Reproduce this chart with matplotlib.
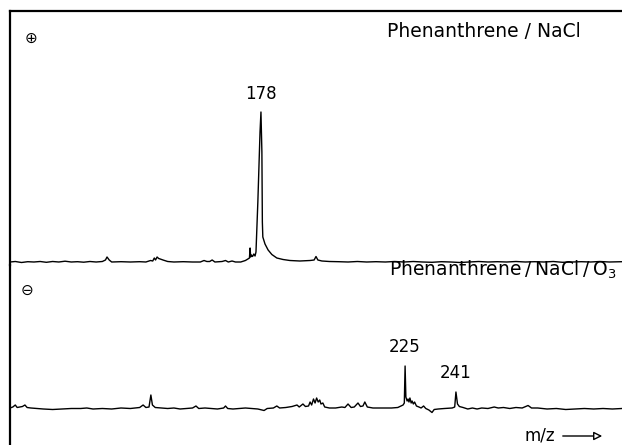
import matplotlib
matplotlib.use("Agg")
import matplotlib.pyplot as plt

# positive-ion spectrum: Phenanthrene / NaCl  (m/z, relative intensity)
top_mz = [97.3, 99, 101, 103, 105, 107, 109, 111, 113, 115, 117, 119, 121, 123, 125, 127,
          128.0, 128.5, 129.2, 130, 133, 136, 139, 141, 142.5, 143.2, 143.7, 144.1, 144.6,
          145.1, 145.6, 146.5, 148, 150, 153, 156, 158.5, 159.7, 160.6, 161.5, 162.3, 163.2,
          165.5, 166.6, 167.5, 168.7, 169.8, 171.5, 173, 173.8, 174.3, 174.5, 174.7, 174.9,
          175.3, 175.7, 176.1, 176.4, 177.0, 177.7, 178.0, 178.3, 178.45, 178.6, 179.3, 180.3,
          181.5, 183.1, 185.1, 187.3, 190.5, 193.8, 195.1, 195.7, 196.3, 197.6, 200, 203, 206,
          209, 212, 215, 218, 221, 224, 227, 230, 233, 236, 239, 242, 245, 248, 251, 254, 257,
          260, 263, 266, 269, 272, 275, 278, 281, 284, 287, 290, 294.1]
top_int = [0, 0.5, -0.5, 0.3, 0, 0.5, -0.3, 0.5, 0, 0.8, 0, 0.3, -0.2, 0.5, 0, 0.5,
           2, 5, 2, 0, 0.3, 0, 0.3, 0, 1.5, 1, 4, 2, 5,
           3.5, 3, 2, 0.5, 0, 0.3, 0, 0, 1.5, 0.5, 0.5, 2, 0,
           0.5, 1.5, 0, 1, 0, 0, 1.5, 3, 4, 14, 5, 7,
           5.5, 8, 6, 10, 60, 130, 150, 110, 40, 25, 18, 12,
           7.5, 4, 2.5, 1.5, 1, 1.5, 2, 5.5, 2, 1, 0.5, 0.3, 0,
           0.5, 0, 0.3, 0, 0.5, 0, 0.5, 0, -0.3, 0.3, 0, -0.5, 0, 0.5, 0, 0.3, 0,
           0.5, 0, 0.3, 0, 0.5, -0.3, 0, 0.3, 0, 0.5, 0, 0.3]

# negative-ion spectrum: Phenanthrene / NaCl / O3
bot_mz = [97.3, 98.2, 99.0, 99.6, 100.5, 101.3, 102.1, 102.8, 104, 106, 108, 111, 114, 117,
          120, 122, 124, 127, 130, 133, 136, 139, 140.1, 141, 142, 142.6, 143.1, 144, 146,
          148, 150, 152, 154, 156, 157.1, 158, 160, 162, 164, 166, 166.6, 167.3, 169, 171,
          173, 175, 177, 179, 180, 182, 183.1, 184, 186, 188, 189.6, 190.3, 191.5, 192.3,
          193.3, 193.8, 194.3, 194.9, 195.4, 195.9, 196.4, 196.9, 197.3, 197.9, 198.5, 200,
          202, 204, 205, 206, 207, 208, 209.2, 210, 210.8, 211.4, 212.2, 214, 217, 220, 222,
          223, 223.7, 224.1, 224.35, 224.6, 225.0, 225.3, 225.6, 225.9, 226.3, 226.6, 227.0,
          227.4, 228.0, 228.8, 229.5, 230.3, 231.0, 232, 233.0, 233.7, 235, 237, 239.5,
          240.3, 240.7, 241.2, 241.8, 243, 244.5, 246, 247.5, 249, 251, 253, 254.3, 256, 258,
          260, 262, 263.9, 265, 267, 270, 273, 276, 279, 282, 285, 288, 291, 294.1]
bot_int = [1, 2, 4, 1.5, 2, 2.5, 4, 1.5, 1, 0.5, 0, -0.5, 0, 0.5,
           0.5, 1, 0, 0.5, 0, 1, 0.5, 1.5, 4, 1.5, 2, 14, 4, 1.5, 1,
           0.5, 1, 0, 0.5, 1, 3, 0.5, 1, 0.5, 0, 1, 3, 0.5, 0, 0.5,
           1, 0.5, 0, -1.5, 0.5, 1, 3, 1, 1.5, 2.5, 4, 2, 5, 2.5,
           3, 7, 4, 10, 6, 11, 7, 9, 5, 6, 2, 1,
           1, 2, 1.5, 5, 1.5, 2, 6, 2.5, 3, 7, 2, 1, 1, 1, 1.5,
           3, 4, 6, 43, 12, 8, 10, 7, 11, 6, 8, 5,
           7, 3, 2, 1, 3, 0.5, -1, -3.5, -0.5, 0, 0.5, 1,
           2, 17, 5, 2.5, 1.5, 0, 1, 0, 1, 0.5, 2, 1, 1.5, 0.5,
           1.5, 1, 3.5, 1, 1, 0, 0.5, -0.5, 0, 0.5, 0, 0.5, 0, 0.5]

top_labels = [178]
bot_labels = [225, 241]
top_title = "Phenanthrene / NaCl"
bot_title = "Phenanthrene\u2009/\u2009NaCl\u2009/\u2009O$_3$"

W, H = 622, 445


def fx(x):
    return x / W


def fy(y):
    return 1 - y / H


fig = plt.figure(figsize=(W / 100, H / 100), dpi=100)

ax_top = fig.add_axes([fx(10), fy(265), 1 - fx(10), (265 - 11) / H])
ax_bot = fig.add_axes([fx(10), 0, 1 - fx(10), (H - 265) / H])

for ax in (ax_top, ax_bot):
    ax.set_xlim(97.3, 294.1)
    ax.set_xticks([])
    ax.set_yticks([])
    for s in ax.spines.values():
        s.set_visible(False)
    ax.spines['left'].set_visible(True)
    ax.spines['left'].set_linewidth(1.6)
    ax.patch.set_alpha(0)
ax_top.spines['top'].set_visible(True)
ax_top.spines['top'].set_linewidth(1.6)

ax_top.set_ylim(-3, 251)
ax_bot.set_ylim(-36, 144)

ax_top.plot(top_mz, top_int, color='black', lw=1.0)
ax_bot.plot(bot_mz, bot_int, color='black', lw=1.0)


def label_peaks(ax, mz, inten, labels, gap):
    for lab in labels:
        near = [(i, m) for m, i in zip(mz, inten) if abs(m - lab) < 1.5]
        top = max(near)
        ax.annotate(str(lab), (top[1], top[0]), xytext=(0, gap), textcoords='offset pixels',
                    ha='center', va='bottom', fontsize=12)


label_peaks(ax_top, top_mz, top_int, top_labels, 9)
label_peaks(ax_bot, bot_mz, bot_int, bot_labels, 10)

fig.text(fx(387), fy(37), top_title, fontsize=13.5, ha='left', va='baseline')
fig.text(fx(389), fy(276), bot_title, fontsize=13.5, ha='left', va='baseline')
fig.text(fx(31), fy(38), "\u2295", fontsize=11, ha='center', va='center')
fig.text(fx(27), fy(290), "\u2296", fontsize=11, ha='center', va='center')
fig.text(fx(525), fy(435), "m/z", fontsize=12, ha='left', va='center')
fig.add_artist(matplotlib.patches.FancyArrowPatch(
    (fx(560), fy(436)), (fx(605), fy(436)), transform=fig.transFigure,
    arrowstyle='-|>,head_length=5,head_width=2.5', lw=1.0, color='black', fc='white'))

fig.savefig("out.png", dpi=100)
